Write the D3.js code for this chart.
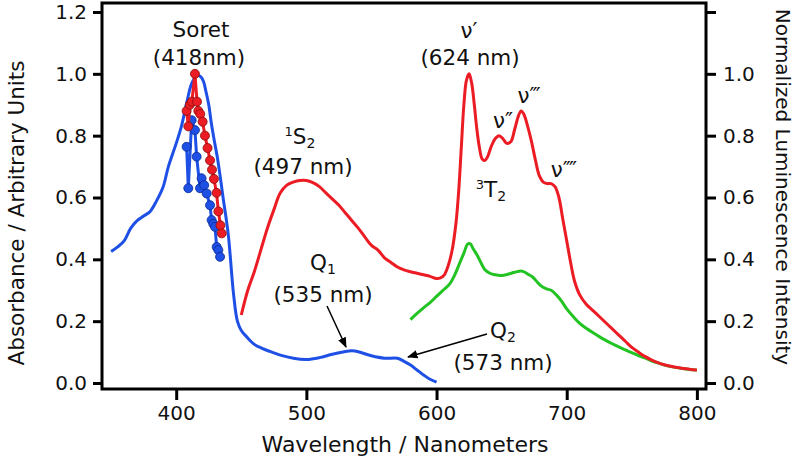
<!DOCTYPE html>
<html><head><meta charset="utf-8">
<script src="https://cdn.jsdelivr.net/npm/d3@7"></script>
<style>body{margin:0;background:#fff}svg{display:block}text{font-family:"DejaVu Sans",sans-serif;fill:#111}</style>
</head><body><svg id="c" width="800" height="462"></svg>
<script>
// ---- data ----
const xTicks = [400, 500, 600, 700, 800];
const yTicksLeft = [0, 0.2, 0.4, 0.6, 0.8, 1.0, 1.2];
const yTicksRight = [0, 0.2, 0.4, 0.6, 0.8, 1.0, 1.2];
const absNm  = [350,355,360,365,370,375,380,385,390,394,400,404,408,412,416,419,421,423,425,427,429,432,436,440,444,447,450,454,460,466,472,480,490,500,510,520,530,535,540,550,560,570,575,580,585,590,595,600];
const absVal = [0.425,0.44,0.46,0.50,0.525,0.54,0.555,0.59,0.635,0.70,0.775,0.83,0.905,0.97,0.995,0.99,0.975,0.94,0.90,0.84,0.79,0.72,0.60,0.48,0.29,0.20,0.17,0.15,0.125,0.112,0.102,0.09,0.08,0.076,0.082,0.093,0.102,0.104,0.101,0.088,0.08,0.08,0.07,0.058,0.042,0.026,0.012,0.003];
const lumNm  = [450,455,460,465,470,475,480,485,490,495,500,505,510,515,520,525,530,535,540,545,550,555,560,565,570,575,580,585,590,595,600,603,606,609,612,615,617,619,621,623,625,627,629,631,633,635,637,639,642,645,648,651,654,657,660,663,665,667,670,673,676,679,682,685,688,691,694,697,700,703,706,710,715,720,725,730,735,740,745,750,755,760,765,770,775,780,785,790,795,800];
const lumVal = [0.22,0.30,0.36,0.43,0.50,0.56,0.615,0.64,0.65,0.655,0.655,0.648,0.635,0.615,0.595,0.575,0.55,0.525,0.50,0.472,0.445,0.43,0.405,0.39,0.375,0.366,0.36,0.355,0.35,0.345,0.338,0.34,0.35,0.38,0.43,0.52,0.62,0.76,0.90,0.98,1.0,0.97,0.90,0.82,0.76,0.725,0.72,0.73,0.765,0.79,0.80,0.79,0.775,0.78,0.82,0.865,0.88,0.87,0.83,0.78,0.72,0.67,0.65,0.645,0.645,0.635,0.60,0.53,0.46,0.39,0.33,0.285,0.255,0.235,0.215,0.195,0.175,0.155,0.135,0.115,0.10,0.086,0.075,0.066,0.059,0.054,0.05,0.047,0.044,0.042];
const lum2Nm  = [580,585,590,595,600,605,610,614,618,621,624,626,628,631,634,637,641,645,650,655,660,665,668,671,674,677,680,684,688,692,696,700,705,710,715,720,725,730,735,740,745,750,755,760,765,770,775,780,790,800];
const lum2Val = [0.205,0.225,0.243,0.26,0.28,0.30,0.32,0.35,0.39,0.42,0.45,0.45,0.435,0.415,0.39,0.367,0.355,0.35,0.348,0.352,0.358,0.362,0.358,0.35,0.342,0.328,0.315,0.305,0.30,0.285,0.265,0.24,0.215,0.193,0.177,0.163,0.15,0.138,0.127,0.117,0.107,0.098,0.089,0.081,0.072,0.065,0.058,0.053,0.046,0.041];
const excRedNm  = [408,409.3,410.5,412,414.4,416,417,418.5,420.3,422.1,424.1,426,427.5,429,431,432.4,434,435];
const excRedVal = [0.88,0.83,0.90,0.91,1.0,0.91,0.88,0.87,0.845,0.80,0.76,0.72,0.69,0.66,0.615,0.555,0.51,0.484];
const excBlueNm  = [408,409.3,411.9,414.4,415.7,418.3,419.5,421.5,423.4,426,427.2,428.5,429.8,431.1,432.4,433.7];
const excBlueVal = [0.764,0.63,0.85,0.818,0.732,0.63,0.662,0.64,0.613,0.575,0.527,0.515,0.505,0.44,0.43,0.408];

// ---- layout ----
const L = 102, R = 706, T = 3, B = 389;
const svg = d3.select("#c");
const x = d3.scaleLinear().domain([343, 807]).range([L, R]);
const y = d3.scaleLinear().domain([0, 1.2]).range([383, 12]);
const blue = "#1e50e6", red = "#ec1c24", green = "#22c322";

const line = d3.line().x(d => x(d[0])).y(d => y(d[1])).curve(d3.curveCatmullRom.alpha(0.5));
const lineLin = d3.line().x(d => x(d[0])).y(d => y(d[1]));
const zip = (a, b) => a.map((v, i) => [v, b[i]]);

svg.append("path").datum(zip(absNm, absVal)).attr("d", line).attr("fill","none").attr("stroke",blue).attr("stroke-width",3);
svg.append("path").datum(zip(lum2Nm, lum2Val)).attr("d", line).attr("fill","none").attr("stroke",green).attr("stroke-width",3);
svg.append("path").datum(zip(lumNm, lumVal)).attr("d", line).attr("fill","none").attr("stroke",red).attr("stroke-width",3);

function markers(nm, val, col, stroke) {
  const d = zip(nm, val);
  svg.append("path").datum(d).attr("d", lineLin).attr("fill","none").attr("stroke",col).attr("stroke-width",3);
  svg.selectAll(null).data(d).enter().append("circle")
    .attr("cx", p => x(p[0])).attr("cy", p => y(p[1])).attr("r", 4.5)
    .attr("fill", col).attr("stroke", stroke).attr("stroke-width", 0.8);
}
markers(excBlueNm, excBlueVal, blue, "#0a2a90");
markers(excRedNm, excRedVal, red, "#8a0a0a");

// ---- axes ----
const fs = "20px";
const style = g => { g.select(".domain").remove(); g.selectAll("line").attr("stroke","#000").attr("stroke-width",3);
    g.selectAll("text").style("font-size", fs).attr("fill","#111"); };
svg.append("g").attr("transform", `translate(0,${B})`)
  .call(d3.axisBottom(x).tickValues(xTicks).tickSize(11).tickPadding(6).tickFormat(d3.format("d"))).call(style);
svg.append("g").attr("transform", `translate(${L},0)`)
  .call(d3.axisLeft(y).tickValues(yTicksLeft).tickSize(9).tickPadding(6).tickFormat(d3.format(".1f"))).call(style);
svg.append("g").attr("transform", `translate(${R},0)`)
  .call(d3.axisRight(y).tickValues(yTicksRight).tickSize(10).tickPadding(7).tickFormat(d => d > 1.1 ? "" : d3.format(".1f")(d))).call(style);
svg.append("rect").attr("x", L).attr("y", T).attr("width", R - L).attr("height", B - T)
  .attr("fill","none").attr("stroke","#000").attr("stroke-width",3);

// axis titles
svg.append("text").attr("transform","translate(16,213) rotate(-90)").attr("text-anchor","middle")
  .attr("dominant-baseline","central").style("font-size","21.5px").text("Absorbance / Arbitrary Units");
svg.append("text").attr("transform","translate(783,187) rotate(90)").attr("text-anchor","middle")
  .attr("dominant-baseline","central").style("font-size","20px").text("Normalized Luminescence Intensity");
svg.append("text").attr("x", 405).attr("y", 452).attr("text-anchor","middle").style("font-size","22px").text("Wavelength / Nanometers");

// annotations
const as = "21.5px";
function lab(px, py, txt) {
  return svg.append("text").attr("x", px).attr("y", py).attr("text-anchor","middle").style("font-size", as).text(txt);
}
lab(201, 37, "Soret");
lab(199, 65, "(418nm)");
lab(469, 38, "ν′");
lab(470, 65, "(624 nm)");
function subsup(px, py, sup, base, sub) {
  const t = svg.append("text").attr("x", px).attr("y", py).attr("text-anchor","middle").style("font-size", as);
  if (sup) t.append("tspan").attr("dy", -8).style("font-size","13px").text(sup);
  t.append("tspan").attr("dy", sup ? 8 : 0).text(base);
  t.append("tspan").attr("dy", 4).style("font-size","14px").text(sub);
}
subsup(300, 144, "1", "S", "2");
lab(303, 174, "(497 nm)");
lab(503, 128, "ν″");
lab(529, 103, "ν‴");
lab(564, 177, "ν⁗");
subsup(491, 197, "3", "T", "2");
subsup(323, 270, null, "Q", "1");
lab(323, 302, "(535 nm)");
subsup(503, 338, null, "Q", "2");
lab(503, 370, "(573 nm)");

// arrows
const defs = svg.append("defs");
defs.append("marker").attr("id","ah").attr("viewBox","0 0 10 10").attr("refX",9).attr("refY",5)
  .attr("markerWidth",7).attr("markerHeight",7).attr("orient","auto")
  .append("path").attr("d","M0,1 L10,5 L0,9 Z").attr("fill","#000");
function arrow(x1, y1, x2, y2) {
  svg.append("line").attr("x1",x1).attr("y1",y1).attr("x2",x2).attr("y2",y2)
    .attr("stroke","#000").attr("stroke-width",1.5).attr("marker-end","url(#ah)");
}
arrow(327, 306, 346, 347);
arrow(487, 334, 408, 357);
</script></body></html>
